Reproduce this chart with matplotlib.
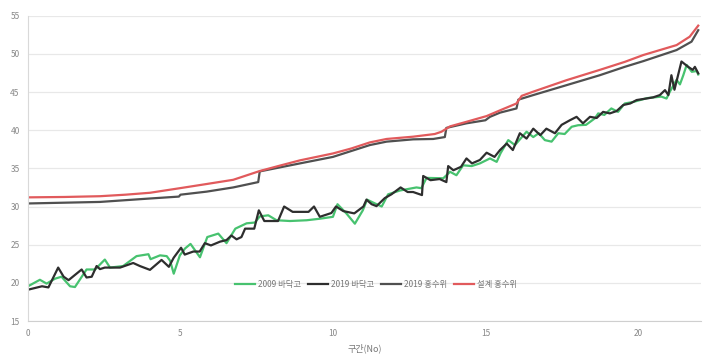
import matplotlib
matplotlib.use("Agg")
import matplotlib.pyplot as plt

plt.rcParams['font.family'] = ['Noto Sans CJK KR', 'DejaVu Sans']

# 2009 riverbed level
x_bed09 = [0, 0.39, 0.61, 0.89, 1.1, 1.38, 1.54, 1.92, 2.2, 2.52, 2.69, 3.12, 3.56, 3.95, 4.02,
           4.33, 4.55, 4.66, 4.78, 4.98, 5.15, 5.33, 5.64, 5.88, 6.24, 6.51, 6.8, 7.17, 7.44, 7.6,
           7.88, 8.15, 8.59, 9.14, 9.57, 10.0, 10.15, 10.44, 10.72, 10.98, 11.12, 11.38, 11.6,
           11.81, 12.2, 12.74, 12.9, 13.07, 13.62, 13.84, 14.05, 14.27, 14.55, 14.82, 15.15,
           15.37, 15.5, 15.75, 15.97, 16.35, 16.57, 16.75, 16.95, 17.17, 17.39, 17.6, 17.83,
           18.04, 18.3, 18.59, 18.7, 18.9, 19.13, 19.35, 19.57, 19.85, 20.3, 20.77, 20.94,
           21.05, 21.27, 21.38, 21.49, 21.6, 21.77, 21.93, 21.98]
y_bed09 = [19.55, 20.4, 19.9, 20.55, 20.8, 19.55, 19.45, 21.75, 21.75, 23.05, 22.0, 22.2, 23.5,
           23.75, 23.1, 23.6, 23.5, 22.9, 21.2, 23.6, 24.5, 25.1, 23.35, 26.0, 26.45, 25.2, 27.1,
           27.8, 27.9, 28.7, 28.85, 28.2, 28.1, 28.2, 28.4, 28.65, 30.3, 29.1, 27.75, 29.5, 30.9,
           30.4, 30.0, 31.6, 32.1, 32.5, 32.4, 33.75, 33.7, 34.55, 34.1, 35.4, 35.3, 35.65, 36.3,
           35.85, 37.0, 38.7, 38.05, 39.8, 39.1, 39.6, 38.7, 38.5, 39.6, 39.5, 40.45, 40.65,
           40.7, 41.55, 42.2, 42.0, 42.85, 42.4, 43.5, 43.7, 44.2, 44.4, 44.15, 45.05, 46.6,
           46.0, 47.2, 48.55, 47.65, 47.75, 47.3]

# 2019 riverbed level
x_bed19 = [0, 0.46, 0.67, 0.99, 1.17, 1.33, 1.76, 1.92, 2.09, 2.25, 2.36, 2.52, 3.02, 3.45, 3.67,
           4.0, 4.38, 4.62, 4.78, 5.02, 5.14, 5.42, 5.63, 5.8, 6.0, 6.3, 6.51, 6.67, 6.84, 7.0,
           7.12, 7.42, 7.57, 7.75, 8.2, 8.4, 8.68, 9.2, 9.38, 9.57, 9.95, 10.1, 10.34, 10.7, 11.0,
           11.1, 11.27, 11.43, 11.7, 11.92, 12.22, 12.45, 12.63, 12.92, 12.96, 13.2, 13.5, 13.72,
           13.78, 13.95, 14.2, 14.38, 14.56, 14.82, 15.04, 15.3, 15.48, 15.7, 15.9, 16.13, 16.35,
           16.57, 16.8, 17.0, 17.28, 17.5, 17.77, 17.99, 18.2, 18.43, 18.65, 18.86, 19.08, 19.3,
           19.52, 19.75, 19.96, 20.28, 20.5, 20.72, 20.89, 21.0, 21.1, 21.2, 21.43, 21.65, 21.8,
           21.87, 21.98]
y_bed19 = [19.1, 19.55, 19.4, 22.0, 20.8, 20.35, 21.75, 20.7, 20.8, 22.2, 21.8, 22.0, 22.0, 22.6,
           22.2, 21.7, 23.0, 22.1, 23.3, 24.6, 23.7, 24.1, 24.1, 25.2, 24.9, 25.4, 25.6, 26.2,
           25.7, 26.0, 27.1, 27.1, 29.5, 28.1, 28.1, 30.0, 29.3, 29.3, 30.0, 28.65, 29.15, 30.0,
           29.4, 29.1, 30.0, 30.9, 30.3, 30.05, 31.1, 31.6, 32.5, 31.9, 31.9, 31.5, 34.0, 33.45,
           33.6, 33.2, 35.3, 34.75, 35.2, 36.3, 35.65, 36.1, 37.05, 36.5, 37.4, 38.25, 37.4, 39.6,
           38.9, 40.2, 39.35, 40.2, 39.6, 40.7, 41.3, 41.75, 40.9, 41.75, 41.6, 42.4, 42.2, 42.5,
           43.3, 43.5, 43.95, 44.15, 44.3, 44.6, 45.25, 44.6, 47.2, 45.3, 49.0, 48.3, 47.9, 48.3,
           47.45]

# 2019 flood level
x_flood19 = [0, 2.36, 4.0, 4.95, 5.0, 5.86, 6.73, 7.55, 7.6, 8.92, 10.0, 11.21, 11.76, 12.63,
             13.29, 13.67, 13.72, 14.38, 15.0, 15.15, 15.48, 16.02, 16.08, 16.57, 17.66, 18.75,
             19.57, 20.18, 21.27, 21.76, 21.98]
y_flood19 = [30.4, 30.6, 31.05, 31.3, 31.55, 31.95, 32.5, 33.2, 34.6, 35.65, 36.5, 38.05, 38.5,
             38.8, 38.85, 39.1, 40.3, 40.9, 41.3, 41.75, 42.3, 42.85, 44.0, 44.6, 45.9, 47.2,
             48.3, 49.05, 50.5, 51.6, 53.1]

# design flood level
x_design = [0, 1.2, 2.36, 3.2, 4.0, 4.98, 5.86, 6.73, 7.6, 8.3, 8.92, 10.0, 10.6, 11.21, 11.76,
            12.63, 13.34, 13.56, 13.84, 14.38, 15.04, 15.48, 16.02, 16.19, 16.57, 17.66, 18.75,
            19.57, 20.18, 21.27, 21.7, 21.98]
y_design = [31.2, 31.25, 31.35, 31.55, 31.8, 32.4, 32.95, 33.5, 34.65, 35.4, 36.05, 36.95, 37.6,
            38.4, 38.85, 39.15, 39.5, 39.8, 40.5, 41.1, 41.85, 42.6, 43.5, 44.5, 45.05, 46.55,
            47.9, 48.95, 49.85, 51.15, 52.25, 53.7]

labels = ['2009 바닥고', '2019 바닥고', '2019 홍수위', '설계 홍수위']
colors = ['#47c26f', '#2e2e2e', '#505050', '#e15a5c']

fig = plt.figure(figsize=(7.05, 3.61), dpi=100)
ax = fig.add_axes([0.0397, 0.1108, 0.9546, 0.8457])

series = [(x_bed09, y_bed09), (x_bed19, y_bed19), (x_flood19, y_flood19), (x_design, y_design)]
for (xs, ys), lab, c in zip(series, labels, colors):
    ax.plot(xs, ys, color=c, lw=1.6, label=lab)

ax.set_xlim(0, 22.07)
ax.set_ylim(15, 55)
ax.set_xticks([0, 5, 10, 15, 20])
ax.set_yticks(range(15, 56, 5))
ax.grid(axis='y', color='#e8e8e8', lw=0.9)
ax.set_axisbelow(True)
for s in ['top', 'right']:
    ax.spines[s].set_visible(False)
ax.spines['left'].set_color('#d9d9d9')
ax.spines['bottom'].set_color('#cfcfcf')
ax.tick_params(length=0, labelsize=6, colors='#888888', pad=6)
ax.set_xlabel('구간(No)', fontsize=6.5, color='#777777', labelpad=4)

ax.legend(loc='center', bbox_to_anchor=(0.517, 0.121), ncol=4, frameon=False,
          fontsize=6, handlelength=2.4, columnspacing=0.8, handletextpad=0.4,
          labelcolor='#777777')

fig.savefig('out.png', dpi=100)
